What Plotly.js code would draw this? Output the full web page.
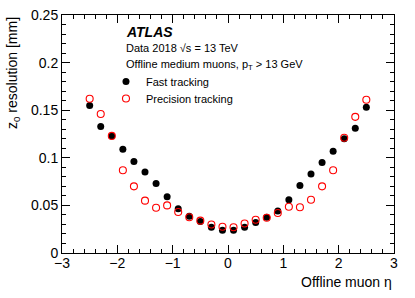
<!DOCTYPE html>
<html>
<head>
<meta charset="utf-8">
<script src="https://cdn.plot.ly/plotly-3.0.1.min.js"></script>
<style>html,body{margin:0;padding:0;background:#fff;}#plot{width:415px;height:298px;}</style>
</head>
<body>
<div id="plot"></div>
<script>
const eta = [-2.5,-2.3,-2.1,-1.9,-1.7,-1.5,-1.3,-1.1,-0.9,-0.7,-0.5,-0.3,-0.1,0.1,0.3,0.5,0.7,0.9,1.1,1.3,1.5,1.7,1.9,2.1,2.3,2.5];
const fastRes = [0.155,0.133,0.123,0.109,0.096,0.085,0.073,0.059,0.0465,0.0385,0.033,0.027,0.024,0.024,0.027,0.032,0.0375,0.044,0.056,0.071,0.083,0.095,0.107,0.120,0.131,0.153];
const precRes = [0.162,0.146,0.123,0.087,0.070,0.055,0.0475,0.050,0.043,0.0375,0.034,0.030,0.0276,0.027,0.031,0.035,0.037,0.042,0.0486,0.048,0.056,0.070,0.087,0.121,0.143,0.161];
const seriesNames = ["Fast tracking","Precision tracking"];
const xTitle = "Offline muon \u03b7";
const yTitle = "z<sub>0</sub> resolution [mm]";

const F = "Liberation Sans, Arial, Helvetica, sans-serif";
const traces = [
  {x: eta, y: fastRes, type:'scatter', mode:'markers', name: seriesNames[0], legend:'legend',
   marker:{symbol:'circle', size:7, color:'black'}},
  {x: eta, y: precRes, type:'scatter', mode:'markers', name: seriesNames[1], legend:'legend2',
   marker:{symbol:'circle-open', size:7, color:'#ff0000', line:{width:1.1, color:'#ff0000'}}}
];
const legStyle = {xanchor:'left', yanchor:'top', bgcolor:'rgba(0,0,0,0)', font:{family:F, size:11}, itemwidth:30};
const layout = {
  width:415, height:298,
  margin:{l:62, r:21, t:15, b:45},
  paper_bgcolor:'white', plot_bgcolor:'white',
  font:{family:F, size:14, color:'black'},
  showlegend:true,
  legend:Object.assign({x:0.1325, y:0.7815}, legStyle),
  legend2:Object.assign({x:0.1325, y:0.710}, legStyle),
  xaxis:{range:[-3,3], showgrid:false, zeroline:false, showline:true, linecolor:'black', linewidth:1,
         mirror:'allticks', ticks:'inside', ticklen:8, tickcolor:'black', dtick:1, tick0:0,
         ticklabelstandoff:-3,
         tickfont:{family:F, size:14}, minor:{dtick:0.2, ticks:'inside', ticklen:4, tickcolor:'black', showgrid:false}},
  yaxis:{range:[0,0.25], showgrid:false, zeroline:false, showline:true, linecolor:'black', linewidth:1,
         mirror:'allticks', ticks:'inside', ticklen:8, tickcolor:'black',
         tickvals:[0,0.05,0.1,0.15,0.2,0.25], ticktext:['0','0.05','0.1','0.15','0.2','0.25'],
         tickfont:{family:F, size:14}, minor:{dtick:0.01, ticks:'inside', ticklen:4, tickcolor:'black', showgrid:false}},
  annotations:[
    {xref:'paper', yref:'paper', x:1, y:0, xanchor:'right', yanchor:'top', yshift:-19,
     text:xTitle, showarrow:false, font:{family:F, size:14}},
    {xref:'paper', yref:'paper', x:0, y:1, xanchor:'center', yanchor:'top', xshift:-49,
     textangle:-90, text:yTitle, showarrow:false, font:{family:F, size:14}},
    {xref:'paper', yref:'paper', x:0.1867, y:0.93, xanchor:'left', yanchor:'middle',
     text:'<b><i>ATLAS</i></b>', showarrow:false, font:{family:F, size:14}},
    {xref:'paper', yref:'paper', x:0.1867, y:0.86, xanchor:'left', yanchor:'middle',
     text:'Data 2018 \u221As = 13 TeV', showarrow:false, font:{family:F, size:11}},
    {xref:'paper', yref:'paper', x:0.1867, y:0.79, xanchor:'left', yanchor:'middle',
     text:'Offline medium muons, p<sub>T</sub> > 13 GeV', showarrow:false, font:{family:F, size:11}}
  ]
};
Plotly.newPlot('plot', traces, layout, {displayModeBar:false, staticPlot:true});
</script>
</body>
</html>
